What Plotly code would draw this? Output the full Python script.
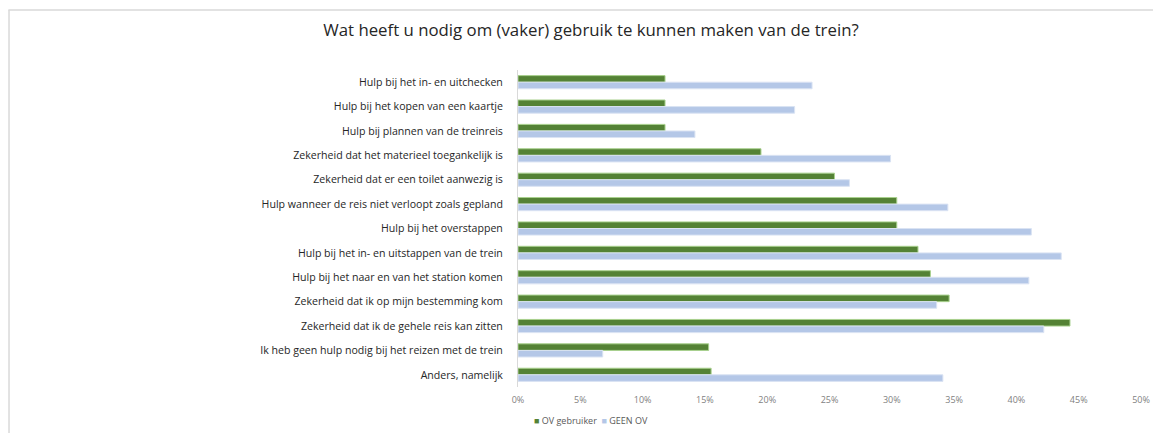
import plotly.graph_objects as go

# --- Data ---

categories = [
    "Hulp bij het in- en uitchecken",
    "Hulp bij het kopen van een kaartje",
    "Hulp bij plannen van de treinreis",
    "Zekerheid dat het materieel toegankelijk is",
    "Zekerheid dat er een toilet aanwezig is",
    "Hulp wanneer de reis niet verloopt zoals gepland",
    "Hulp bij het overstappen",
    "Hulp bij het in- en uitstappen van de trein",
    "Hulp bij het naar en van het station komen",
    "Zekerheid dat ik op mijn bestemming kom",
    "Zekerheid dat ik de gehele reis kan zitten",
    "Ik heb geen hulp nodig bij het reizen met de trein",
    "Anders, namelijk",
]
ov_gebruiker = [0.118, 0.118, 0.118, 0.195, 0.254, 0.304, 0.304, 0.321, 0.331, 0.346, 0.443, 0.153, 0.155]
geen_ov = [0.236, 0.222, 0.142, 0.299, 0.266, 0.345, 0.412, 0.436, 0.410, 0.336, 0.422, 0.068, 0.341]
x_ticks = [0, 0.05, 0.10, 0.15, 0.20, 0.25, 0.30, 0.35, 0.40, 0.45, 0.50]

title = "Wat heeft u nodig om (vaker) gebruik te kunnen maken van de trein?"
NARROW = "Liberation Sans Narrow, Open Sans, sans-serif"
GREEN, BLUE = "#548235", "#b4c7e7"

fig = go.Figure()
fig.add_trace(go.Bar(
    y=categories, x=ov_gebruiker, orientation="h", name="OV gebruiker",
    marker=dict(color=GREEN, line=dict(color="#a9d18e", width=1)),
))
fig.add_trace(go.Bar(
    y=categories, x=geen_ov, orientation="h", name="GEEN OV",
    marker=dict(color=BLUE, line=dict(color="#dae3f3", width=1)),
))

# page body has an 8px margin, so the figure is 8px smaller than the window
fig.update_layout(
    width=1153, height=425,
    margin=dict(l=510, r=20, t=62, b=46, autoexpand=False),
    paper_bgcolor="white", plot_bgcolor="white",
    barmode="group", bargap=0.46, bargroupgap=0,
    title=dict(text=title, x=0.5056, xanchor="center", y=0.948, yanchor="middle",
               font=dict(family="Open Sans", size=16.8, color="#262626")),
    font=dict(family=NARROW, color="#262626"),
    showlegend=False,
)
fig.update_xaxes(
    range=[0, 0.5], tickvals=x_ticks, tickformat=".0%", showgrid=False,
    zeroline=False, showline=False, ticks="", ticklabelstandoff=6,
    tickfont=dict(family=NARROW, size=9, color="#7f7f7f"),
)
fig.update_yaxes(
    autorange="reversed", showgrid=False, showline=True, linecolor="#d9d9d9",
    linewidth=1, ticks="", ticklabelstandoff=12,
    tickfont=dict(family=NARROW, size=10.6, color="#262626"),
)

# legend below the axis, drawn as text
fig.add_annotation(
    xref="paper", yref="paper", x=0.0225, y=-0.107, xanchor="left", yanchor="middle",
    showarrow=False, font=dict(family=NARROW, size=9, color="#595959"),
    text=(f"<span style='color:{GREEN}'>■</span> OV gebruiker  "
          f"<span style='color:{BLUE}'>■</span> GEEN OV"),
)

# frame around the chart
fig.add_shape(type="line", xref="paper", yref="paper", x0=-0.818, x1=1.04, y0=1.189, y1=1.189,
              line=dict(color="#d9d9d9", width=1.5))
fig.add_shape(type="line", xref="paper", yref="paper", x0=-0.817, x1=-0.817, y0=1.189, y1=-0.2,
              line=dict(color="#d9d9d9", width=1.5))

fig.write_html("out.html")
